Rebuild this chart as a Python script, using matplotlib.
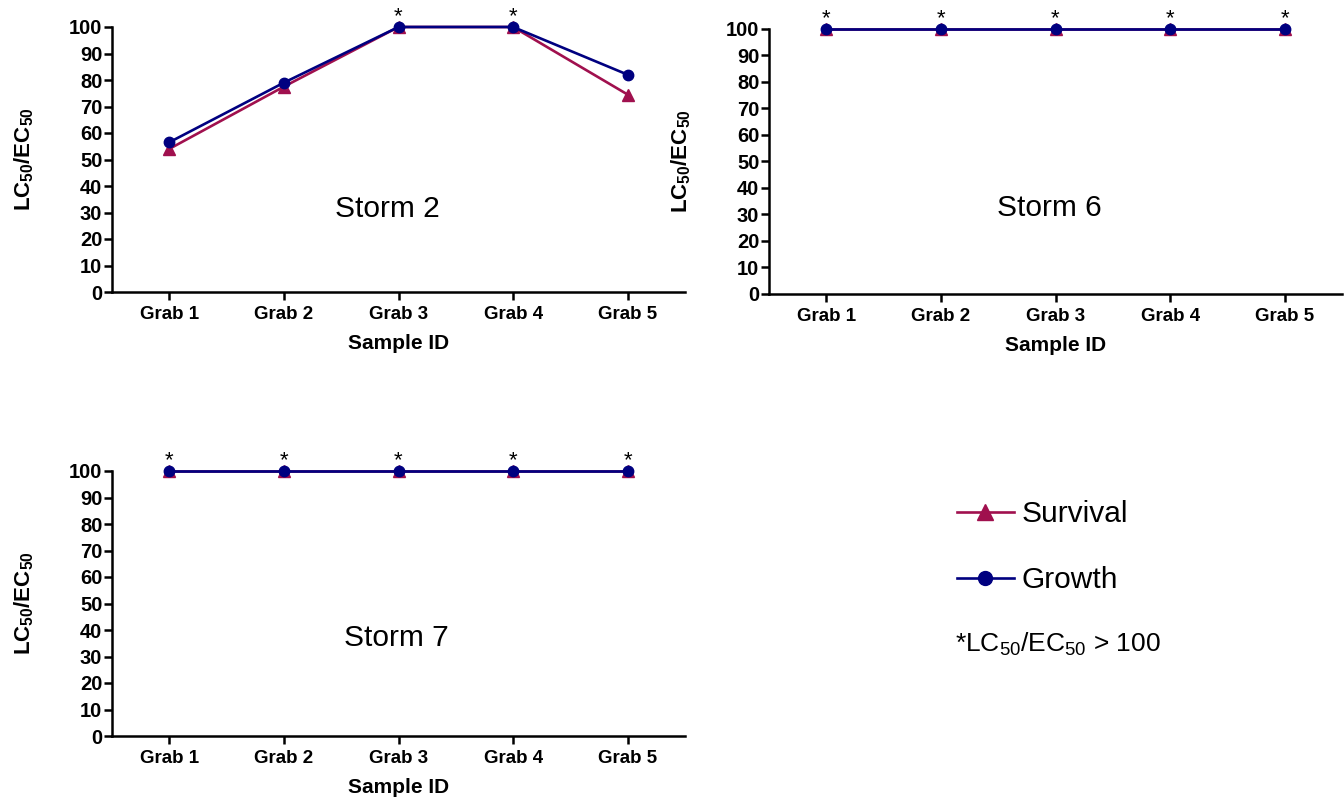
import matplotlib
matplotlib.use("Agg")
import matplotlib.pyplot as plt
from matplotlib.lines import Line2D

plt.rcParams["font.family"] = ["Liberation Sans", "DejaVu Sans"]
plt.rcParams["mathtext.fontset"] = "custom"
plt.rcParams["mathtext.rm"] = "Liberation Sans"
plt.rcParams["mathtext.bf"] = "Liberation Sans:bold"
plt.rcParams["mathtext.it"] = "Liberation Sans:italic"

# Data
samples = ["Grab 1", "Grab 2", "Grab 3", "Grab 4", "Grab 5"]
storm2_survival = [54, 77.5, 100, 100, 74.5]
storm2_growth = [56.5, 79, 100, 100, 82]
storm6_survival = [100, 100, 100, 100, 100]
storm6_growth = [100, 100, 100, 100, 100]
storm7_survival = [100, 100, 100, 100, 100]
storm7_growth = [100, 100, 100, 100, 100]
# samples whose LC50/EC50 exceeds 100 (flagged with *)
storm2_flags = [False, False, True, True, False]
storm6_flags = [True, True, True, True, True]
storm7_flags = [True, True, True, True, True]
yticks = list(range(0, 101, 10))

SURV_COLOR = "#A0104E"
GROW_COLOR = "#000080"

W, H = 1344, 802
fig = plt.figure(figsize=(W / 100, H / 100), dpi=100)


def px_axes(left, top, right, bottom):
    return fig.add_axes([left / W, 1 - bottom / H, (right - left) / W, (bottom - top) / H])


def draw_panel(ax, survival, growth, flags, title, title_xy):
    x = list(range(1, len(samples) + 1))
    ax.plot(x, survival, color=SURV_COLOR, lw=1.9, marker="^", ms=8.5,
            clip_on=False, zorder=3)
    ax.plot(x, growth, color=GROW_COLOR, lw=1.9, marker="o", ms=7.5,
            clip_on=False, zorder=4)
    for xi, g, f in zip(x, growth, flags):
        if f:
            ax.annotate("*", (xi, g), xytext=(0, 3.5), textcoords="offset points",
                        ha="center", va="baseline", fontsize=16, zorder=5,
                        annotation_clip=False)
    ax.set_xlim(0.5, 5.5)
    ax.set_ylim(0, 100)
    ax.set_xticks(x)
    ax.set_xticklabels(samples)
    ax.set_yticks(yticks)
    for s in ("top", "right"):
        ax.spines[s].set_visible(False)
    for s in ("left", "bottom"):
        ax.spines[s].set_linewidth(1.8)
    ax.tick_params(axis="both", direction="out", length=6, width=1.8)
    ax.tick_params(axis="y", pad=1, labelsize=14.5)
    ax.tick_params(axis="x", pad=4, labelsize=13.5)
    for lab in ax.get_xticklabels() + ax.get_yticklabels():
        lab.set_fontweight("bold")
    ax.set_xlabel("Sample ID", fontsize=15, fontweight="bold", labelpad=8)
    ax.set_ylabel(r"$\mathbf{LC_{50}/EC_{50}}$", fontsize=16)
    ax.yaxis.set_label_coords(-0.133, 0.5)
    ax.text(title_xy[0], title_xy[1], title, fontsize=21.5, ha="center",
            va="center")


ax1 = px_axes(112, 27, 685, 292)
draw_panel(ax1, storm2_survival, storm2_growth, storm2_flags, "Storm 2", (2.9, 31.5))

ax2 = px_axes(769, 29, 1342, 294)
draw_panel(ax2, storm6_survival, storm6_growth, storm6_flags, "Storm 6", (2.95, 32.5))

ax3 = px_axes(112, 471, 685, 736)
draw_panel(ax3, storm7_survival, storm7_growth, storm7_flags, "Storm 7", (2.98, 37))

handles = [
    Line2D([], [], color=SURV_COLOR, lw=1.9, marker="^", ms=11),
    Line2D([], [], color=GROW_COLOR, lw=1.9, marker="o", ms=10),
]
fig.legend(handles, ["Survival", "Growth"], loc="upper left",
           bbox_to_anchor=(957 / W, 1 - 500 / H), frameon=False,
           fontsize=21.5, handlelength=1.9, handletextpad=0.25,
           labelspacing=1.28, borderpad=0, borderaxespad=0)

fig.text(955 / W, 1 - 644 / H, r"*LC$_{50}$/EC$_{50}$ > 100", fontsize=19,
         ha="left", va="center")

fig.savefig("out.png", dpi=100)
